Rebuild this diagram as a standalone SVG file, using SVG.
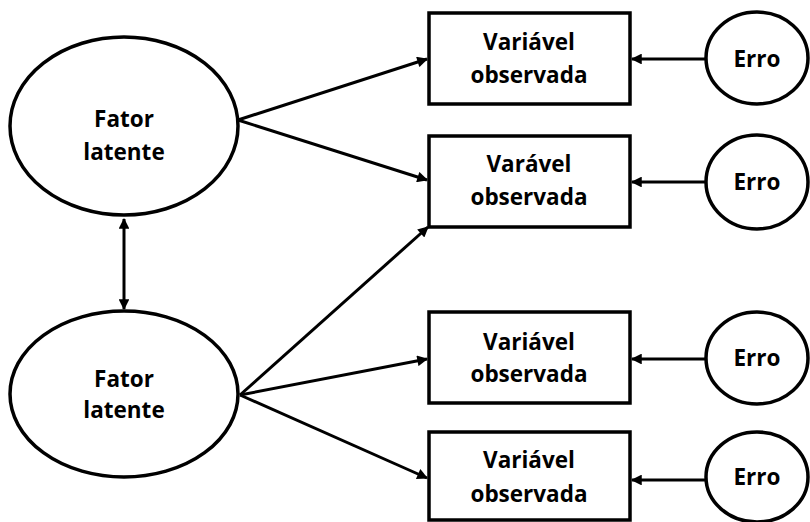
<svg xmlns="http://www.w3.org/2000/svg" width="810" height="522" viewBox="0 0 810 522">
<style>
.n{fill:#fff;stroke:#000;stroke-width:3.5}
.t{font-family:"Open Sans","Liberation Sans",sans-serif;font-weight:bold;font-size:22.5px;fill:#000;text-anchor:middle}
.c{stroke:#000;stroke-width:3;fill:none;marker-end:url(#ah)}
</style>
<defs>
<marker id="ah" viewBox="0 0 10 10" refX="9" refY="5" markerWidth="4" markerHeight="3.6" orient="auto-start-reverse" markerUnits="strokeWidth">
<path d="M0,0 L10,5 L0,10 z" fill="#000"/>
</marker>
</defs>
<rect width="810" height="522" fill="#fff"/>
<g id="connectors">
<line class="c" x1="124" y1="219" x2="124" y2="309" style="marker-start:url(#ah)"/>
<line class="c" x1="238" y1="120" x2="427" y2="59"/>
<line class="c" x1="238" y1="120" x2="427" y2="180"/>
<line class="c" x1="240" y1="395" x2="428" y2="227"/>
<line class="c" x1="240" y1="395" x2="427" y2="359"/>
<line class="c" x1="240" y1="395" x2="427" y2="478"/>
<line class="c" x1="705" y1="59" x2="632" y2="59"/>
<line class="c" x1="705" y1="182" x2="632" y2="182"/>
<line class="c" x1="705" y1="359" x2="632" y2="359"/>
<line class="c" x1="705" y1="480" x2="632" y2="480"/>
</g>
<g id="fator1"><ellipse class="n" cx="124" cy="126" rx="114" ry="89"/><text class="t" x="124" y="127">Fator</text><text class="t" x="124" y="160">latente</text></g>
<g id="fator2"><ellipse class="n" cx="124" cy="394" rx="114" ry="83"/><text class="t" x="124" y="387">Fator</text><text class="t" x="124" y="418">latente</text></g>
<g id="var1"><rect class="n" x="429" y="13" width="201" height="91"/><text class="t" x="529" y="50">Variável</text><text class="t" x="529" y="83">observada</text></g>
<g id="var2"><rect class="n" x="429" y="136" width="201" height="91"/><text class="t" x="529" y="172">Varável</text><text class="t" x="529" y="205">observada</text></g>
<g id="var3"><rect class="n" x="429" y="312" width="201" height="91"/><text class="t" x="529" y="350">Variável</text><text class="t" x="529" y="382">observada</text></g>
<g id="var4"><rect class="n" x="429" y="432" width="201" height="88"/><text class="t" x="529" y="468">Variável</text><text class="t" x="529" y="502">observada</text></g>
<g id="erro1"><ellipse class="n" cx="757" cy="58" rx="51" ry="46"/><text class="t" x="757" y="67">Erro</text></g>
<g id="erro2"><ellipse class="n" cx="757" cy="182" rx="51" ry="47"/><text class="t" x="757" y="190">Erro</text></g>
<g id="erro3"><ellipse class="n" cx="757" cy="358" rx="51" ry="46"/><text class="t" x="757" y="366">Erro</text></g>
<g id="erro4"><ellipse class="n" cx="757" cy="477" rx="51" ry="45"/><text class="t" x="757" y="485">Erro</text></g>
</svg>
